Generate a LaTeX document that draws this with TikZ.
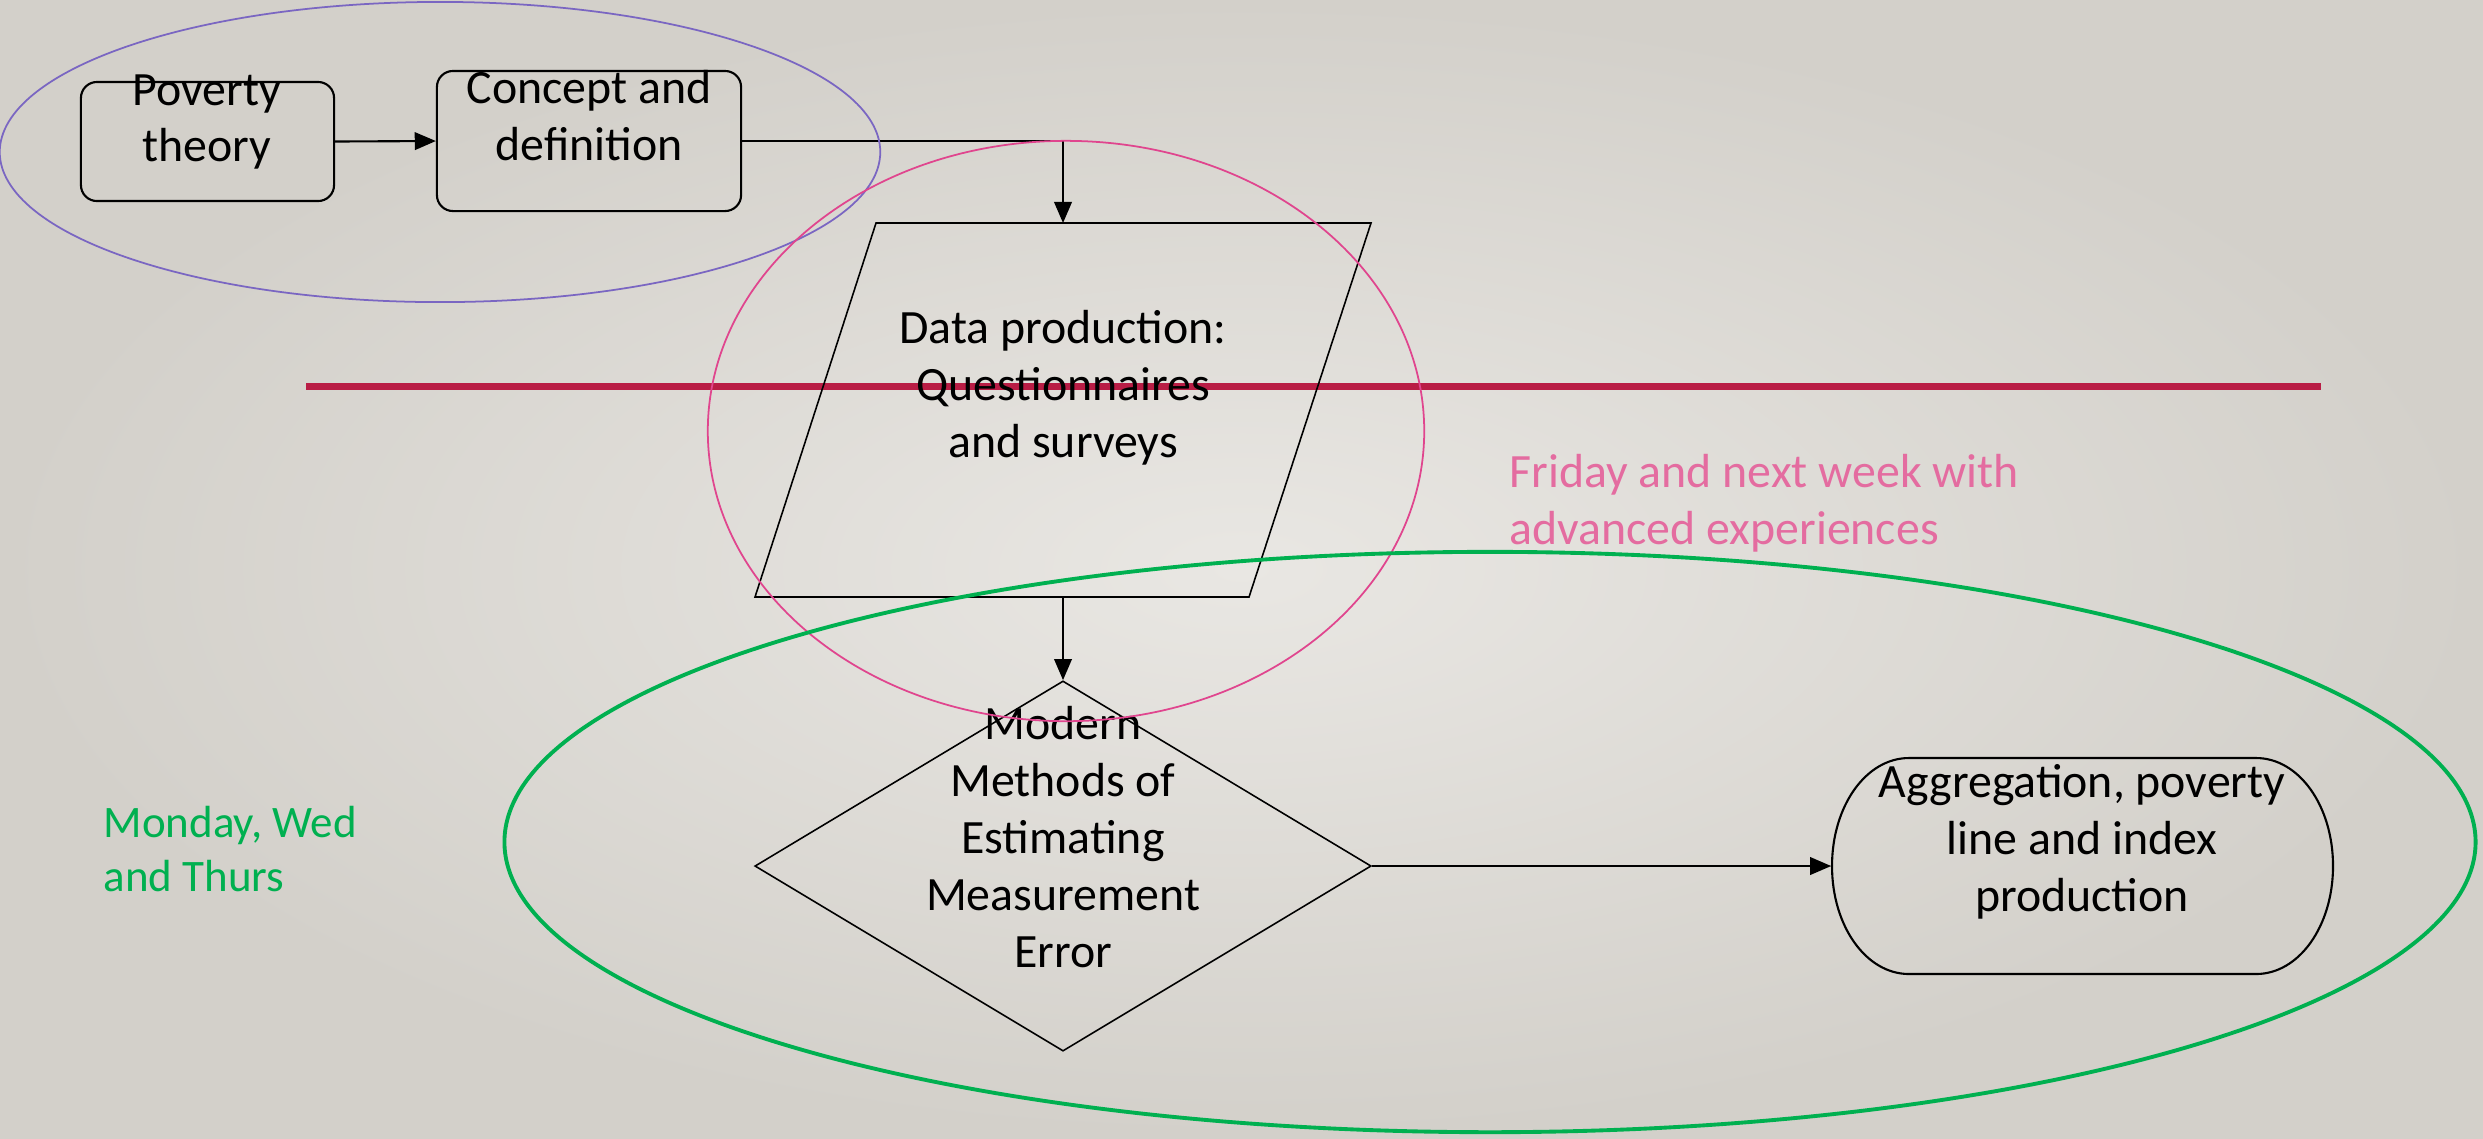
\documentclass[tikz,border=0pt]{standalone}
\usepackage{fontspec}
\setmainfont{Carlito}
\usetikzlibrary{arrows.meta,shapes.geometric}
\definecolor{bgin}{HTML}{E9E7E3}
\definecolor{bgout}{HTML}{D3D0CA}
\definecolor{ringblue}{HTML}{7A66C2}
\definecolor{ringpink}{HTML}{E0458E}
\definecolor{ringgreen}{HTML}{00B050}
\definecolor{divider}{HTML}{B91D45}
\definecolor{notepink}{HTML}{E46CA0}
\begin{document}
\begin{tikzpicture}[x=0.01cm,y=-0.01cm,
  flow/.style={draw=black, line width=0.6pt},
  flowthin/.style={draw=black, line width=0.45pt},
  arr/.style={flow, -{Triangle[length=6pt,width=5pt]}},
  box/.style={flow, rounded corners=0.16cm, inner sep=0pt},
  label/.style={align=center, inner sep=0pt, font=\fontsize{13.6}{16.2}\selectfont},
  note/.style={align=left, inner sep=0pt, anchor=west},
]
% page background
\shade[inner color=bgin, outer color=bgout] (0,0) rectangle (2483,1138);
\useasboundingbox (0,0) rectangle (2483,1138);

% horizontal divider
\draw[divider, line width=2pt] (306,386) -- (2321,386);

% top row boxes
\node[box, minimum width=2.53cm, minimum height=1.19cm] (pov) at (207.5,141.5) {};
\node[box, minimum width=3.04cm, minimum height=1.40cm] (con) at (589,141) {};
\node[label] (povtxt) at (207,122) {Poverty\\theory};
\node[label] (contxt) at (589,116) {Concept and\\definition};

% data production parallelogram
\coordinate (dTL) at (876,223);
\coordinate (dTR) at (1371,223);
\coordinate (dBR) at (1249,597);
\coordinate (dBL) at (755,597);
\coordinate (dtop) at (1063,223);
\coordinate (dbot) at (1063,597);
\draw[flowthin] (dTL) -- (dTR) -- (dBR) -- (dBL) -- cycle;
\node[label] (datatxt) at (1063,388) {Data production:\\Questionnaires\\and surveys};

% decision diamond
\node[diamond, flowthin, minimum width=6.16cm, minimum height=3.70cm, inner sep=0pt] (err) at (1063,866) {};
\node[label] (errtxt) at (1063,837) {Modern\\Methods of\\Estimating\\Measurement\\Error};

% aggregation terminal
\node[inner sep=0pt, minimum width=5.01cm, minimum height=2.16cm] (agg) at (2082.5,866) {};
\draw[flow] (1909,758) -- (2256,758)
  .. controls (2299,758) and (2333,806) .. (2333,866)
  .. controls (2333,926) and (2299,974) .. (2256,974)
  -- (1909,974)
  .. controls (1866,974) and (1832,926) .. (1832,866)
  .. controls (1832,806) and (1866,758) .. (1909,758) -- cycle;
\node[label] (aggtxt) at (2082,842) {Aggregation, poverty\\line and index\\production};

% connectors
\draw[arr] (pov.east) -- (con.west);
\draw[arr] (con.east) -| (dtop);
\draw[arr] (dbot) -- (err.north);
\draw[arr] (err.east) -- (agg.west);

% grouping rings
\draw[ringblue, line width=0.5pt] (440,152) ellipse [x radius=4.40cm, y radius=1.50cm];
\draw[ringpink, line width=0.5pt] (1066,431) ellipse [x radius=3.58cm, y radius=2.90cm];
\draw[ringgreen, line width=1.1pt] (1490,842) ellipse [x radius=9.85cm, y radius=2.90cm];

% schedule notes
\node[note, text=ringgreen, font=\fontsize{12.8}{15.6}\selectfont] (mon) at (103,849) {Monday, Wed\\and Thurs};
\node[note, text=notepink, font=\fontsize{13.6}{16.2}\selectfont] (fri) at (1509,503) {Friday and next week with\\advanced experiences};
\end{tikzpicture}
\end{document}
